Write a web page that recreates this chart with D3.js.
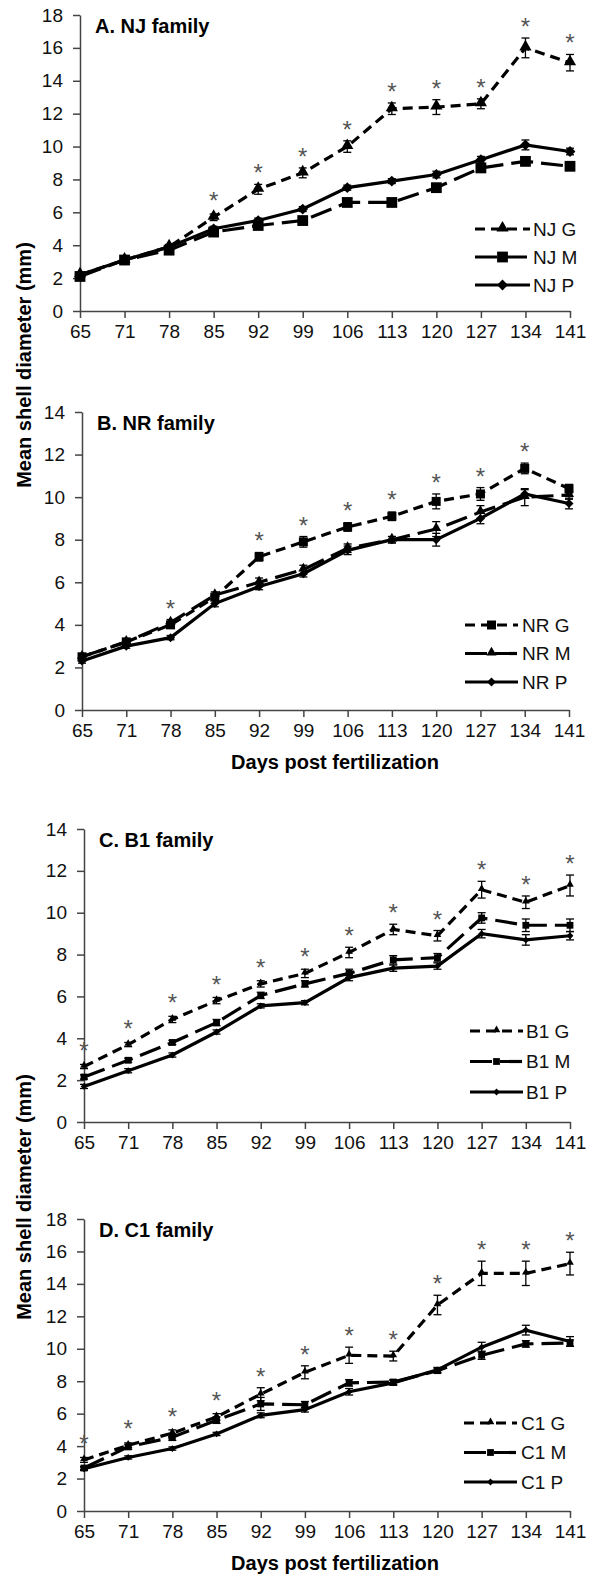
<!DOCTYPE html>
<html>
<head>
<meta charset="utf-8">
<script src="https://cdn.jsdelivr.net/npm/d3@7"></script>
<style>
  body { margin: 0; background: #fff; }
  svg { display: block; font-family: "Liberation Sans", Arial, sans-serif; }
</style>
</head>
<body>
<div id="chart"></div>
<script>
// x categories: days post fertilization
var days = ["65", "71", "78", "85", "92", "99", "106", "113", "120", "127", "134", "141"];

// A. NJ family
var njG    = [2.2, 3.1, 3.9, 5.7, 7.4, 8.4, 10.0, 12.3, 12.4, 12.6, 16.0, 15.1];
var njGErr = [0.1, 0.1, 0.15, 0.2, 0.3, 0.3, 0.35, 0.35, 0.45, 0.3, 0.6, 0.5];
var njM    = [2.1, 3.1, 3.7, 4.8, 5.2, 5.5, 6.6, 6.6, 7.5, 8.7, 9.1, 8.8];
var njMErr = [0.1, 0.1, 0.1, 0.15, 0.15, 0.15, 0.2, 0.2, 0.2, 0.2, 0.25, 0.2];
var njP    = [2.2, 3.1, 3.9, 5.0, 5.5, 6.2, 7.5, 7.9, 8.3, 9.2, 10.1, 9.7];
var njPErr = [0.1, 0.1, 0.1, 0.15, 0.15, 0.15, 0.15, 0.15, 0.2, 0.2, 0.3, 0.2];
var njStars = ["85", "92", "99", "106", "113", "120", "127", "134", "141"];

// B. NR family
var nrG    = [2.5, 3.2, 4.0, 5.3, 7.2, 7.9, 8.6, 9.1, 9.8, 10.15, 11.35, 10.4];
var nrGErr = [0.1, 0.1, 0.15, 0.15, 0.2, 0.25, 0.2, 0.2, 0.35, 0.3, 0.25, 0.2];
var nrM    = [2.5, 3.2, 4.1, 5.4, 6.0, 6.6, 7.6, 8.0, 8.5, 9.3, 10.0, 10.1];
var nrMErr = [0.1, 0.1, 0.15, 0.15, 0.2, 0.2, 0.2, 0.15, 0.35, 0.3, 0.4, 0.2];
var nrP    = [2.3, 3.0, 3.4, 5.0, 5.8, 6.4, 7.5, 8.0, 8.0, 9.0, 10.15, 9.7];
var nrPErr = [0.1, 0.1, 0.1, 0.15, 0.15, 0.15, 0.2, 0.15, 0.3, 0.25, 0.2, 0.25];
var nrStars = ["78", "92", "99", "106", "113", "120", "127", "134"];

// C. B1 family
var b1G    = [2.65, 3.7, 4.9, 5.8, 6.6, 7.1, 8.1, 9.2, 8.9, 11.1, 10.5, 11.3];
var b1GErr = [0.1, 0.1, 0.15, 0.15, 0.15, 0.2, 0.25, 0.25, 0.25, 0.4, 0.3, 0.5];
var b1M    = [2.15, 2.95, 3.8, 4.75, 6.05, 6.6, 7.1, 7.75, 7.85, 9.75, 9.4, 9.4];
var b1MErr = [0.1, 0.1, 0.1, 0.15, 0.15, 0.15, 0.2, 0.2, 0.2, 0.25, 0.3, 0.3];
var b1P    = [1.7, 2.45, 3.2, 4.3, 5.55, 5.7, 6.9, 7.35, 7.45, 9.0, 8.7, 8.9];
var b1PErr = [0.1, 0.1, 0.1, 0.1, 0.1, 0.1, 0.15, 0.15, 0.15, 0.2, 0.25, 0.2];
var b1Stars = days.slice();

// D. C1 family
var c1G    = [3.15, 4.05, 4.8, 5.8, 7.2, 8.55, 9.6, 9.55, 12.7, 14.65, 14.65, 15.25];
var c1GErr = [0.15, 0.15, 0.2, 0.2, 0.4, 0.4, 0.5, 0.3, 0.6, 0.75, 0.75, 0.7];
var c1M    = [2.65, 3.95, 4.55, 5.6, 6.6, 6.55, 7.9, 7.95, 8.65, 9.6, 10.3, 10.35];
var c1MErr = [0.1, 0.15, 0.2, 0.2, 0.4, 0.2, 0.2, 0.15, 0.15, 0.25, 0.2, 0.2];
var c1P    = [2.6, 3.3, 3.85, 4.75, 5.9, 6.25, 7.35, 7.9, 8.7, 10.1, 11.15, 10.45];
var c1PErr = [0.1, 0.1, 0.1, 0.1, 0.15, 0.15, 0.2, 0.15, 0.15, 0.3, 0.3, 0.3];
var c1Stars = days.slice();

var width = 595, height = 1577;
var shortDash = "10,6", longDash = "22,8";

var svg = d3.select("#chart")
    .append("svg")
    .attr("width", width)
    .attr("height", height);

var panels = [
  { title: "A. NJ family", yMax: 18, left: 80, right: 570, top: 15, bottom: 311, ms: 1.08,
    series: [
      { name: "NJ G", v: njG, e: njGErr, shape: "tri", dash: shortDash },
      { name: "NJ M", v: njM, e: njMErr, shape: "sq", dash: longDash },
      { name: "NJ P", v: njP, e: njPErr, shape: "dia", dash: null }
    ],
    stars: njStars, leg: { x1: 475, x2: 530, tx: 533, y: 229, dy: 28 } },
  { title: "B. NR family", yMax: 14, left: 82, right: 569, top: 412, bottom: 710, ms: 0.9,
    series: [
      { name: "NR G", v: nrG, e: nrGErr, shape: "sq", dash: shortDash },
      { name: "NR M", v: nrM, e: nrMErr, shape: "tri", dash: longDash },
      { name: "NR P", v: nrP, e: nrPErr, shape: "dia", dash: null }
    ],
    stars: nrStars, leg: { x1: 465, x2: 518, tx: 522, y: 625, dy: 28.5 } },
  { title: "C. B1 family", yMax: 14, left: 84, right: 570, top: 829, bottom: 1122, ms: 0.68,
    series: [
      { name: "B1 G", v: b1G, e: b1GErr, shape: "tri", dash: shortDash },
      { name: "B1 M", v: b1M, e: b1MErr, shape: "sq", dash: longDash },
      { name: "B1 P", v: b1P, e: b1PErr, shape: "dia", dash: null }
    ],
    stars: b1Stars, leg: { x1: 470, x2: 523, tx: 526, y: 1031, dy: 30.5 } },
  { title: "D. C1 family", yMax: 18, left: 84, right: 570, top: 1219, bottom: 1511, ms: 0.68,
    series: [
      { name: "C1 G", v: c1G, e: c1GErr, shape: "tri", dash: shortDash },
      { name: "C1 M", v: c1M, e: c1MErr, shape: "sq", dash: longDash },
      { name: "C1 P", v: c1P, e: c1PErr, shape: "dia", dash: null }
    ],
    stars: c1Stars, leg: { x1: 464, x2: 517, tx: 521, y: 1423, dy: 29.5 } }
];

function marker(g, shape, s, cx, cy) {
  if (shape == "tri") {
    g.append("path")
      .attr("d", d3.symbol(d3.symbolTriangle, 55 * s * s)())
      .attr("transform", "translate(" + cx + "," + (cy - 1) + ")")
      .attr("fill", "#000");
  } else if (shape == "sq") {
    g.append("path")
      .attr("d", d3.symbol(d3.symbolSquare, 100 * s * s)())
      .attr("transform", "translate(" + cx + "," + cy + ")")
      .attr("fill", "#000");
  } else {
    g.append("path")
      .attr("d", d3.symbol(d3.symbolSquare, 50 * s * s)())
      .attr("transform", "translate(" + cx + "," + cy + ") rotate(45)")
      .attr("fill", "#000");
  }
}

panels.forEach(function(p) {
  var g = svg.append("g");

  var x = d3.scalePoint().domain(days).range([p.left, p.right]);
  var y = d3.scaleLinear().domain([0, p.yMax]).range([p.bottom, p.top]);

  // axes
  var yAxis = g.append("g")
    .attr("transform", "translate(" + p.left + ",0)")
    .call(d3.axisLeft(y).tickValues(d3.range(0, p.yMax + 1, 2)).tickSize(7).tickSizeOuter(0).tickPadding(10));
  var xAxis = g.append("g")
    .attr("transform", "translate(0," + p.bottom + ")")
    .call(d3.axisBottom(x).tickSize(7).tickSizeOuter(0).tickPadding(7));
  [yAxis, xAxis].forEach(function(a) {
    a.selectAll("path, line").attr("stroke", "#444").attr("stroke-width", 1.5);
    a.selectAll("text").attr("font-size", 19).attr("fill", "#111")
      .attr("font-family", "Liberation Sans, Arial, sans-serif");
  });

  g.append("text")
    .attr("x", p.left + 15)
    .attr("y", p.top + 18)
    .attr("font-size", 20)
    .attr("font-weight", "bold")
    .text(p.title);

  // lines
  var line = d3.line()
    .x(function(d, i) { return x(days[i]); })
    .y(function(d) { return y(d); });

  p.series.slice().reverse().forEach(function(s) {
    // error bars
    s.v.forEach(function(v, i) {
      var cx = x(days[i]);
      var y1 = y(v + s.e[i]), y2 = y(v - s.e[i]);
      g.append("line").attr("x1", cx).attr("x2", cx).attr("y1", y1).attr("y2", y2)
        .attr("stroke", "#000").attr("stroke-width", 1.3);
      [y1, y2].forEach(function(yy) {
        g.append("line").attr("x1", cx - 4).attr("x2", cx + 4).attr("y1", yy).attr("y2", yy)
          .attr("stroke", "#000").attr("stroke-width", 1.3);
      });
    });

    g.append("path")
      .datum(s.v)
      .attr("fill", "none")
      .attr("stroke", "#000")
      .attr("stroke-width", 3.2)
      .attr("stroke-dasharray", s.dash)
      .attr("d", line);

    s.v.forEach(function(v, i) {
      marker(g, s.shape, p.ms, x(days[i]), y(v));
    });
  });

  // significance asterisks above the G series
  var gs = p.series[0];
  p.stars.forEach(function(d) {
    var i = days.indexOf(d);
    var base = Math.min(y(gs.v[i] + gs.e[i]) - 3, y(gs.v[i]) - 8);
    g.append("text")
      .attr("x", x(d))
      .attr("y", base)
      .attr("text-anchor", "middle")
      .attr("font-size", 24)
      .attr("fill", "#555")
      .text("*");
  });

  // legend
  p.series.forEach(function(s, k) {
    var ly = p.leg.y + k * p.leg.dy;
    g.append("line")
      .attr("x1", p.leg.x1).attr("x2", p.leg.x2)
      .attr("y1", ly).attr("y2", ly)
      .attr("stroke", "#000")
      .attr("stroke-width", 3.2)
      .attr("stroke-dasharray", s.dash);
    marker(g, s.shape, p.ms, (p.leg.x1 + p.leg.x2) / 2, ly);
    g.append("text")
      .attr("x", p.leg.tx)
      .attr("y", ly)
      .attr("dy", "0.36em")
      .attr("font-size", 19)
      .attr("fill", "#111")
      .text(s.name);
  });
});

// shared axis titles
[365, 1197].forEach(function(cy) {
  svg.append("text")
    .attr("transform", "translate(31," + cy + ") rotate(-90)")
    .attr("text-anchor", "middle")
    .attr("font-size", 20)
    .attr("font-weight", "bold")
    .text("Mean shell diameter (mm)");
});
[769, 1570].forEach(function(by) {
  svg.append("text")
    .attr("x", 335)
    .attr("y", by)
    .attr("text-anchor", "middle")
    .attr("font-size", 20)
    .attr("font-weight", "bold")
    .text("Days post fertilization");
});
</script>
</body>
</html>
